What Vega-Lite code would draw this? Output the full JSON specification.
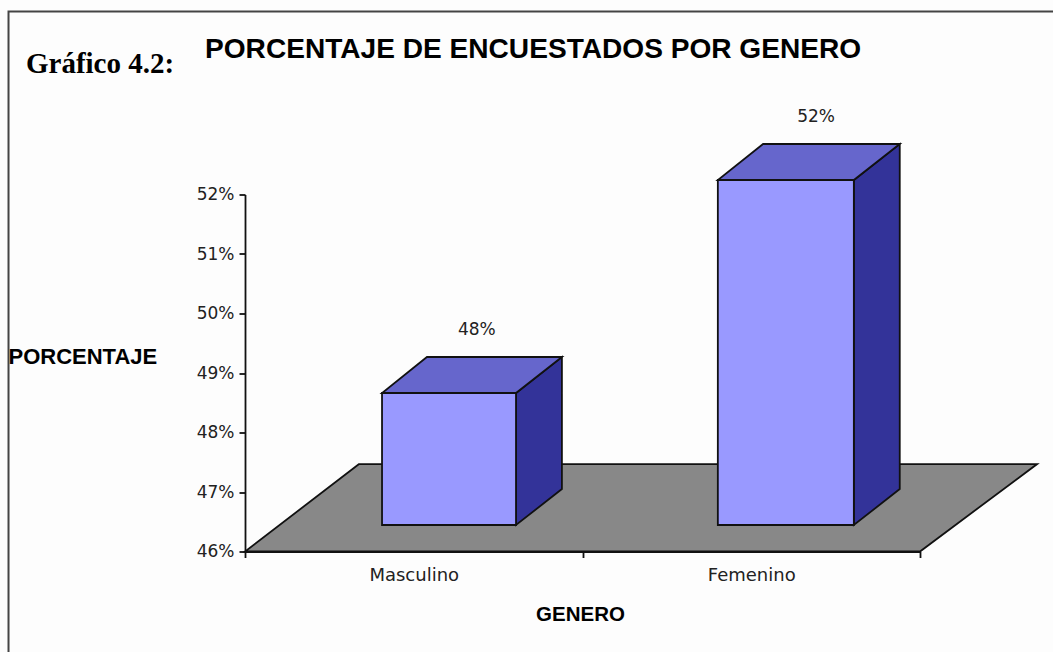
{
"$schema":"https://vega.github.io/schema/vega-lite/v6.json",
"width":675,"height":357,
"autosize":{"type":"none"},
"padding":{"left":245,"top":194.5,"right":133,"bottom":100.5},
"background":"#fdfdfd",
"view":{"stroke":null,"fill":null},
"title":{"text":"PORCENTAJE DE ENCUESTADOS POR GENERO","anchor":"start","frame":"group","dx":-40,"offset":-54,"font":"Liberation Sans","fontSize":28.1,"fontWeight":"bold","color":"#000000"},
"datasets":{
"piso":[{"cara":"piso","x":0,"x2":2,"y":46},{"cara":"piso","x":0.338,"x2":2.347,"y":47.47}],
"laterales":[
{"genero":"Masculino","x":0.803,"y":48.664,"y2":46.445},{"genero":"Masculino","x":0.939,"y":49.269,"y2":47.05},
{"genero":"Femenino","x":1.804,"y":52.244,"y2":46.445},{"genero":"Femenino","x":1.94,"y":52.849,"y2":47.05}],
"superiores":[
{"genero":"Masculino","x":0.406,"x2":0.803,"y":48.664},{"genero":"Masculino","x":0.539,"x2":0.939,"y":49.269},
{"genero":"Femenino","x":1.401,"x2":1.804,"y":52.244},{"genero":"Femenino","x":1.535,"x2":1.94,"y":52.849}],
"barras":[
{"genero":"Masculino","x":0.406,"x2":0.803,"y":48.664,"y2":46.445},
{"genero":"Femenino","x":1.401,"x2":1.804,"y":52.244,"y2":46.445}],
"etiquetas":[{"etiqueta":"48%","x":0.687,"y":49.269},{"etiqueta":"52%","x":1.692,"y":52.849}],
"marco":[{"x":-0.7007,"x2":3,"y":55.076,"y2":40}],
"rotulo":[{"rotulo":"Gráfico 4.2:","x":-0.649,"y":54.05}]
},
"encoding":{
"x":{"field":"x","type":"quantitative","scale":{"domain":[0,2],"nice":false,"zero":false},
"axis":{"values":[0,0.5,1,1.5,2],"grid":false,"zindex":1,"labelExpr":"datum.value==0.5?'Masculino':datum.value==1.5?'Femenino':''","tickOpacity":{"condition":{"test":"datum.value==0.5||datum.value==1.5","value":0},"value":1},"tickSize":6,"tickColor":"#111111","tickWidth":1.8,"domainColor":"#111111","domainWidth":1.8,"labelFont":"DejaVu Sans","labelFontSize":18,"labelColor":"#222222","labelPadding":9,"labelFlush":false,"labelOverlap":false,"title":"GENERO","titleFont":"Liberation Sans","titleFontSize":20.5,"titleFontWeight":"bold","titleColor":"#000000","titleX":335,"titleY":62.5,"titleBaseline":"middle","titleAlign":"center"}},
"y":{"field":"y","type":"quantitative","scale":{"domain":[46,52],"nice":false,"zero":false},
"axis":{"values":[46,47,48,49,50,51,52],"grid":false,"zindex":1,"labelExpr":"datum.value+'%'","tickSize":6,"tickColor":"#111111","tickWidth":1.8,"domainColor":"#111111","domainWidth":1.8,"labelFont":"DejaVu Sans","labelFontSize":17,"labelColor":"#222222","labelPadding":5,"title":"PORCENTAJE","titleFont":"Liberation Sans","titleFontSize":22,"titleFontWeight":"bold","titleColor":"#000000","titleAngle":0,"titleX":-237,"titleY":161.5,"titleAlign":"left","titleBaseline":"middle"}}
},
"layer":[
{"data":{"name":"marco"},"mark":{"type":"rect","filled":false,"stroke":"#444444","strokeWidth":2},"encoding":{"x2":{"field":"x2"},"y2":{"field":"y2"}}},
{"data":{"name":"piso"},"mark":{"type":"area","orient":"horizontal","fill":"#888888","stroke":"#111111","strokeWidth":1.8},"encoding":{"x2":{"field":"x2"}}},
{"data":{"name":"laterales"},"mark":{"type":"area","orient":"vertical","fill":"#333399","stroke":"#111111","strokeWidth":1.8},"encoding":{"y2":{"field":"y2"},"detail":{"field":"genero"}}},
{"data":{"name":"superiores"},"mark":{"type":"area","orient":"horizontal","fill":"#6666CC","stroke":"#111111","strokeWidth":1.8},"encoding":{"x2":{"field":"x2"},"detail":{"field":"genero"}}},
{"data":{"name":"barras"},"mark":{"type":"rect","fill":"#9999FF","stroke":"#111111","strokeWidth":1.8},"encoding":{"x2":{"field":"x2"},"y2":{"field":"y2"}}},
{"data":{"name":"etiquetas"},"mark":{"type":"text","font":"DejaVu Sans","fontSize":17,"color":"#222222","dy":-27,"baseline":"middle"},"encoding":{"text":{"field":"etiqueta"}}},
{"data":{"name":"rotulo"},"mark":{"type":"text","font":"Liberation Serif","fontSize":29,"fontWeight":"bold","color":"#000000","align":"left","baseline":"alphabetic"},"encoding":{"text":{"field":"rotulo"}}}
]
}
